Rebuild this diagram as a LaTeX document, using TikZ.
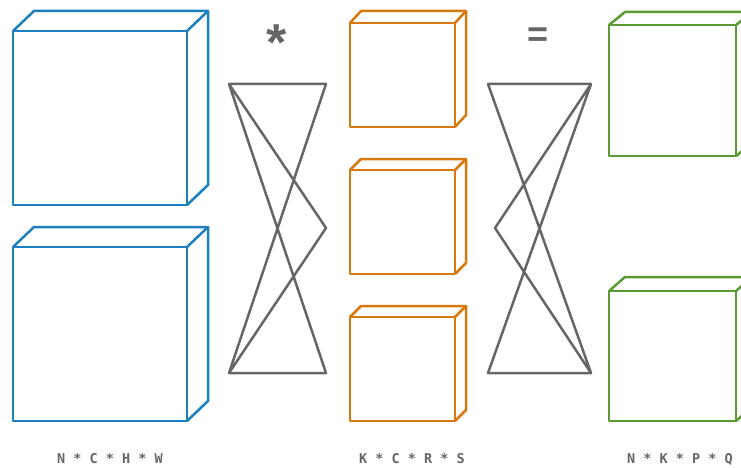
\documentclass[tikz,border=0pt]{standalone}
\usepackage{fontspec}
\usetikzlibrary{calc}
\newfontfamily\shapefont{DejaVu Sans Mono}
\newfontfamily\opfont{Liberation Sans}
\definecolor{inputblue}{HTML}{1B7FC0}
\definecolor{filterorange}{HTML}{D67A0E}
\definecolor{outputgreen}{HTML}{5C9A34}
\definecolor{opgray}{HTML}{666666}

% tensor cube: colour, left, top, right, bottom, depth x, depth y
\newcommand{\tensorcube}[7]{%
  \draw[tensorline, #1] (#2,#3) rectangle (#4,#5);
  \draw[tensorline, #1] (#2,#3) -- ++(#6,#7) -- ([shift={(#6,#7)}]#4,#3)
    -- ([shift={(#6,#7)}]#4,#5) -- (#4,#5);
  \draw[tensorline, #1] (#4,#3) -- ++(#6,#7);
}

\begin{document}
\begin{tikzpicture}[x=1pt, y=-1pt,
    tensorline/.style={line width=2.5pt, line join=round},
    fanline/.style={draw=opgray, line width=2.5pt, line join=round},
    shapelabel/.style={text=opgray, font=\fontsize{13.5}{13.5}\shapefont\bfseries},
    opsign/.style={text=opgray, inner sep=0pt}]
  \useasboundingbox (0,0) rectangle (741,468);
  \clip (0,0) rectangle (741,468);

  % input N*C*H*W
  \tensorcube{inputblue}{13}{31}{187}{205}{21}{-20}
  \tensorcube{inputblue}{13}{247}{187}{421}{21}{-20}

  % filters K*C*R*S
  \tensorcube{filterorange}{350}{23}{455}{127}{11}{-12}
  \tensorcube{filterorange}{350}{170}{455}{274}{11}{-11}
  \tensorcube{filterorange}{350}{317}{455}{421}{11}{-11}

  % output N*K*P*Q
  \tensorcube{outputgreen}{609}{25}{736}{156}{16}{-13}
  \tensorcube{outputgreen}{609}{291}{736}{421}{16}{-14}

  % fan between input and filters
  \coordinate (lfan tl) at (229,84);
  \coordinate (lfan tr) at (326,84);
  \coordinate (lfan bl) at (229,373);
  \coordinate (lfan br) at (326,373);
  \coordinate (lfan mid) at (326,228);
  \draw[fanline] (lfan tl) -- (lfan tr) -- (lfan bl) -- (lfan br) -- (lfan tl) -- (lfan mid) -- (lfan bl);

  % fan between filters and output
  \coordinate (rfan tl) at (488,84);
  \coordinate (rfan tr) at (591,84);
  \coordinate (rfan bl) at (488,373);
  \coordinate (rfan br) at (591,373);
  \coordinate (rfan mid) at (495,228);
  \draw[fanline] (rfan tr) -- (rfan tl) -- (rfan br) -- (rfan bl) -- (rfan tr) -- (rfan mid) -- (rfan br);

  % operators
  \node[opsign, font=\fontsize{52}{52}\opfont\bfseries] (conv sign) at (277,43) {*};
  \node[opsign, font=\fontsize{36}{36}\opfont\bfseries] (equal sign) at (538,37) {=};

  % shapes
  \node[shapelabel] (input shape) at (110,459) {N * C * H * W};
  \node[shapelabel] (filter shape) at (412,459) {K * C * R * S};
  \node[shapelabel] (output shape) at (680,459) {N * K * P * Q};
\end{tikzpicture}
\end{document}
